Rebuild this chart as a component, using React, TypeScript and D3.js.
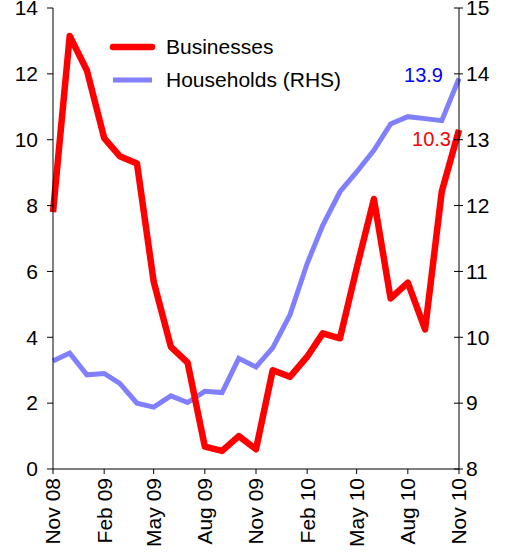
import React from 'react';
import * as d3 from 'd3';

// monthly observations, Nov 08 .. Nov 10
const months = [
  '2008-11', '2008-12', '2009-01', '2009-02', '2009-03', '2009-04', '2009-05',
  '2009-06', '2009-07', '2009-08', '2009-09', '2009-10', '2009-11', '2009-12',
  '2010-01', '2010-02', '2010-03', '2010-04', '2010-05', '2010-06', '2010-07',
  '2010-08', '2010-09', '2010-10', '2010-11',
];

const businesses = [
  7.8, 13.15, 12.1, 10.05, 9.5, 9.28, 5.69, 3.71, 3.23, 0.68, 0.55, 1.0, 0.6,
  3.0, 2.8, 3.41, 4.12, 3.97, 6.1, 8.2, 5.18, 5.66, 4.24, 8.42, 10.3,
];

const households = [
  9.64, 9.76, 9.43, 9.45, 9.3, 9.0, 8.94, 9.11, 9.01, 9.18, 9.16, 9.68, 9.55,
  9.84, 10.34, 11.12, 11.7, 12.21, 12.51, 12.84, 13.24, 13.35, 13.32, 13.29, 13.93,
];

const xTickMonths = ['2008-11', '2009-02', '2009-05', '2009-08', '2009-11', '2010-02', '2010-05', '2010-08', '2010-11'];
const leftTicks = [0, 2, 4, 6, 8, 10, 12, 14];
const rightTicks = [8, 9, 10, 11, 12, 13, 14, 15];

const legendItems = ['Businesses', 'Households (RHS)'];

const FONT = '"Liberation Sans", Arial, sans-serif';
const RED = '#ff0000';
const BLUE = '#8080ff';

const parseMonth = d3.timeParse('%Y-%m');
const fmt = d3.timeFormat('%b %y');

const App = () => {
  const width = 509;
  const height = 553;
  const left = 53;
  const right = 459;
  const top = 8;
  const bottom = 469;

  const dates = months.map(m => parseMonth(m) as Date);

  const x = d3.scaleTime().domain([dates[0], dates[dates.length - 1]]).range([left, right]);
  const yL = d3.scaleLinear().domain([0, 14]).range([bottom, top]);
  const yR = d3.scaleLinear().domain([8, 15]).range([bottom, top]);

  const lineL = d3.line<number>().x((_, i) => x(dates[i])).y(d => yL(d));
  const lineR = d3.line<number>().x((_, i) => x(dates[i])).y(d => yR(d));

  const lastB = businesses[businesses.length - 1];
  const lastH = households[households.length - 1];

  return (
    <svg
      width={width}
      height={height}
      style={{ position: 'absolute', left: 0, top: 0, background: '#fff' }}
      fontFamily={FONT}
    >
      {/* lines */}
      <path d={lineR(households) || ''} fill="none" stroke={BLUE} strokeWidth={5} />
      <path d={lineL(businesses) || ''} fill="none" stroke={RED} strokeWidth={6.5} strokeLinejoin="round" />

      {/* left axis */}
      <line x1={left} x2={left} y1={top} y2={bottom} stroke="#000" />
      {leftTicks.map(t => (
        <g key={'l' + t}>
          <line x1={left - 6} x2={left} y1={yL(t)} y2={yL(t)} stroke="#000" />
          <text x={left - 15} y={yL(t)} dy="0.35em" textAnchor="end" fontSize={21} fill="#000">
            {t}
          </text>
        </g>
      ))}

      {/* right axis */}
      <line x1={right} x2={right} y1={top} y2={bottom} stroke="#000" />
      {rightTicks.map(t => (
        <g key={'r' + t}>
          <line x1={right - 5} x2={right + 4} y1={yR(t)} y2={yR(t)} stroke="#000" />
          <text x={right + 7} y={yR(t)} dy="0.35em" textAnchor="start" fontSize={21} fill="#000">
            {t}
          </text>
        </g>
      ))}

      {/* bottom axis */}
      <line x1={left} x2={right} y1={bottom} y2={bottom} stroke="#000" />
      {xTickMonths.map(m => {
        const d = parseMonth(m) as Date;
        const px = x(d);
        return (
          <g key={m}>
            <line x1={px} x2={px} y1={bottom} y2={bottom + 5} stroke="#000" />
            <text
              transform={`translate(${px},${bottom + 9}) rotate(-90)`}
              dy="0.35em"
              textAnchor="end"
              fontSize={21}
              fill="#000"
            >
              {fmt(d)}
            </text>
          </g>
        );
      })}

      {/* end labels */}
      <text x={443} y={yR(lastH) + 4} textAnchor="end" fontSize={20} fill="#0000ff">
        {lastH.toFixed(1)}
      </text>
      <text x={451} y={yL(lastB) + 16} textAnchor="end" fontSize={20} fill={RED}>
        {lastB.toFixed(1)}
      </text>

      {/* legend */}
      {legendItems.map((name, i) => (
        <g key={name} transform={`translate(0,${47 + i * 33})`}>
          <line
            x1={113}
            x2={152}
            y1={0}
            y2={0}
            stroke={i === 0 ? RED : BLUE}
            strokeWidth={i === 0 ? 6.5 : 5}
            strokeLinecap={i === 0 ? 'round' : 'butt'}
          />
          <text x={166} y={0} dy="0.35em" fontSize={21} fill="#000">
            {name}
          </text>
        </g>
      ))}
    </svg>
  );
};

export default App;
